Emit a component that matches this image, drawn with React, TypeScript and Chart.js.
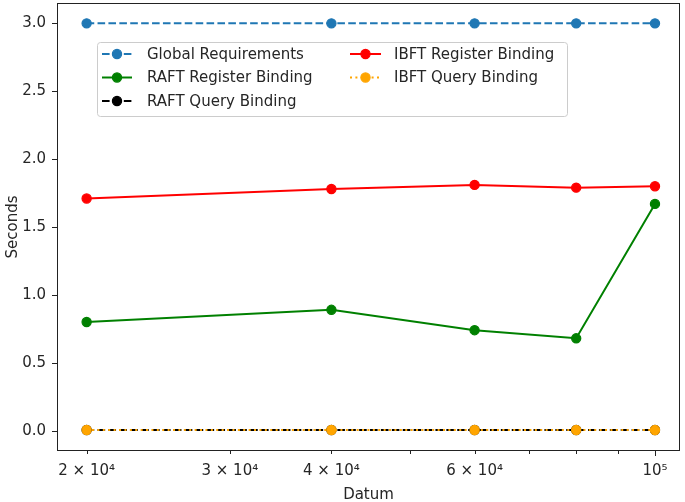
import React, { useEffect, useRef } from "react";
import { Chart, registerables } from "chart.js";

Chart.register(...registerables);

// ---- data ----
const xValues = [20000, 40000, 60000, 80000, 100000];
const globalRequirements = [3.0, 3.0, 3.0, 3.0, 3.0];
const raftRegisterBinding = [0.8, 0.89, 0.74, 0.68, 1.67];
const raftQueryBinding = [0.005, 0.005, 0.005, 0.005, 0.005];
const ibftRegisterBinding = [1.71, 1.78, 1.81, 1.79, 1.8];
const ibftQueryBinding = [0.005, 0.005, 0.005, 0.005, 0.005];

const seriesNames = [
  "Global Requirements",
  "RAFT Register Binding",
  "RAFT Query Binding",
  "IBFT Register Binding",
  "IBFT Query Binding",
];
const seriesValues = [
  globalRequirements,
  raftRegisterBinding,
  raftQueryBinding,
  ibftRegisterBinding,
  ibftQueryBinding,
];
const seriesColors = ["#1f77b4", "#008000", "#000000", "#ff0000", "#ffa500"];
const seriesDash: number[][] = [[7.6, 3.3], [], [7.6, 3.3], [], [2, 3.4]];

const xTickValues = [20000, 30000, 40000, 50000, 60000, 70000, 80000, 90000, 100000];
const xMajorTicks = [100000];
const xTickLabels: Record<number, string> = {
  20000: "2 × 10⁴",
  30000: "3 × 10⁴",
  40000: "4 × 10⁴",
  60000: "6 × 10⁴",
  100000: "10⁵",
};
const yTickValues = [0, 0.5, 1.0, 1.5, 2.0, 2.5, 3.0];

const xLabel = "Datum";
const yLabel = "Seconds";

const FONT = "DejaVu Sans";
const FS = 15;
const TEXT = "#262626";

const framePlugin = {
  id: "frameAndTicks",
  afterDatasetsDraw(chart: any) {
    const { ctx, chartArea } = chart;
    const xs = chart.scales.x;
    const ys = chart.scales.y;
    ctx.save();
    ctx.strokeStyle = "#222";
    ctx.lineWidth = 1;
    ctx.beginPath();
    for (const v of xTickValues) {
      const px = Math.round(xs.getPixelForValue(v)) + 0.5;
      const len = xMajorTicks.includes(v) ? 5 : 3;
      ctx.moveTo(px, chartArea.bottom);
      ctx.lineTo(px, chartArea.bottom + len);
    }
    for (const v of yTickValues) {
      const py = Math.round(ys.getPixelForValue(v)) + 0.5;
      ctx.moveTo(chartArea.left, py);
      ctx.lineTo(chartArea.left - 5, py);
    }
    ctx.stroke();
    ctx.strokeRect(
      chartArea.left + 0.5,
      chartArea.top + 0.5,
      chartArea.right - chartArea.left - 1,
      chartArea.bottom - chartArea.top - 1
    );
    ctx.restore();
  },
};

const legendPlugin = {
  id: "mplLegend",
  afterDraw(chart: any) {
    const { ctx } = chart;
    ctx.save();
    const bx = 97.5, by = 42.5, bw = 470, bh = 74;
    ctx.beginPath();
    (ctx as any).roundRect(bx, by, bw, bh, 3);
    ctx.fillStyle = "rgba(255,255,255,0.8)";
    ctx.fill();
    ctx.strokeStyle = "#cccccc";
    ctx.lineWidth = 1;
    ctx.stroke();

    const cols = [
      { x0: 102, x1: 132, tx: 147 },
      { x0: 350, x1: 381, tx: 394 },
    ];
    const rows = [54, 77.5, 101];
    ctx.font = `${FS}px "${FONT}"`;
    ctx.textBaseline = "middle";
    ctx.textAlign = "left";
    chart.data.datasets.forEach((ds: any, i: number) => {
      const col = i < 3 ? cols[0] : cols[1];
      const y = i < 3 ? rows[i] : rows[i - 3];
      ctx.beginPath();
      ctx.setLineDash(ds.borderDash || []);
      ctx.strokeStyle = ds.borderColor;
      ctx.lineWidth = 2;
      ctx.moveTo(col.x0, y);
      ctx.lineTo(col.x1, y);
      ctx.stroke();
      ctx.setLineDash([]);
      ctx.beginPath();
      ctx.arc((col.x0 + col.x1) / 2, y, 4.6, 0, Math.PI * 2);
      ctx.fillStyle = ds.borderColor;
      ctx.fill();
      ctx.lineWidth = 1.2;
      ctx.stroke();
      ctx.fillStyle = TEXT;
      ctx.fillText(ds.label, col.tx, y + 1);
    });
    ctx.restore();
  },
};

export default function App() {
  const canvasRef = useRef<HTMLCanvasElement | null>(null);

  useEffect(() => {
    if (!canvasRef.current) return;
    const n = seriesNames.length;
    const datasets = seriesNames.map((name, i) => ({
      label: name,
      data: xValues.map((x, j) => ({ x, y: seriesValues[i][j] })),
      borderColor: seriesColors[i],
      backgroundColor: seriesColors[i],
      pointBackgroundColor: seriesColors[i],
      pointBorderColor: seriesColors[i],
      borderWidth: 2,
      borderDash: seriesDash[i],
      pointRadius: 4.6,
      pointBorderWidth: 1.2,
      tension: 0,
      fill: false,
      order: n - 1 - i,
    }));

    const chart = new Chart(canvasRef.current, {
      type: "line",
      data: { datasets },
      options: {
        animation: false,
        responsive: false,
        devicePixelRatio: 1,
        layout: { autoPadding: false, padding: { left: 0, right: 5, top: 3, bottom: 0 } },
        plugins: {
          legend: { display: false },
          tooltip: { enabled: false },
        },
        scales: {
          x: {
            type: "logarithmic",
            min: 18390,
            max: 107340,
            grid: { display: false, drawTicks: false },
            border: { display: false },
            afterBuildTicks: (scale: any) => {
              scale.ticks = xTickValues.map((v) => ({ value: v, major: xMajorTicks.includes(v) }));
            },
            afterFit: (scale: any) => {
              scale.height = 51;
              scale.paddingLeft = 0;
              scale.paddingRight = 0;
            },
            ticks: {
              autoSkip: false,
              maxRotation: 0,
              minRotation: 0,
              padding: 11,
              color: TEXT,
              font: { family: FONT, size: FS },
              callback: (v: any) => xTickLabels[Number(v)] ?? "",
            },
            title: {
              display: true,
              text: xLabel,
              color: TEXT,
              font: { family: FONT, size: FS },
              padding: { top: 0, bottom: -2 },
            },
          },
          y: {
            type: "linear",
            min: -0.15,
            max: 3.15,
            grid: { display: false, drawTicks: false },
            border: { display: false },
            afterBuildTicks: (scale: any) => {
              scale.ticks = yTickValues.map((v) => ({ value: v }));
            },
            afterFit: (scale: any) => {
              scale.width = 57;
              scale.paddingTop = 0;
              scale.paddingBottom = 0;
            },
            ticks: {
              autoSkip: false,
              padding: 11,
              color: TEXT,
              font: { family: FONT, size: FS },
              callback: (v: any) => Number(v).toFixed(1),
            },
            title: {
              display: true,
              text: yLabel,
              color: TEXT,
              font: { family: FONT, size: FS },
              padding: { top: 4, bottom: 0 },
            },
          },
        },
      },
      plugins: [framePlugin, legendPlugin],
    } as any);

    return () => chart.destroy();
  }, []);

  return (
    <div style={{ position: "fixed", left: 0, top: 0, width: 685, height: 502, background: "#fff" }}>
      <canvas ref={canvasRef} width={685} height={502} />
    </div>
  );
}
